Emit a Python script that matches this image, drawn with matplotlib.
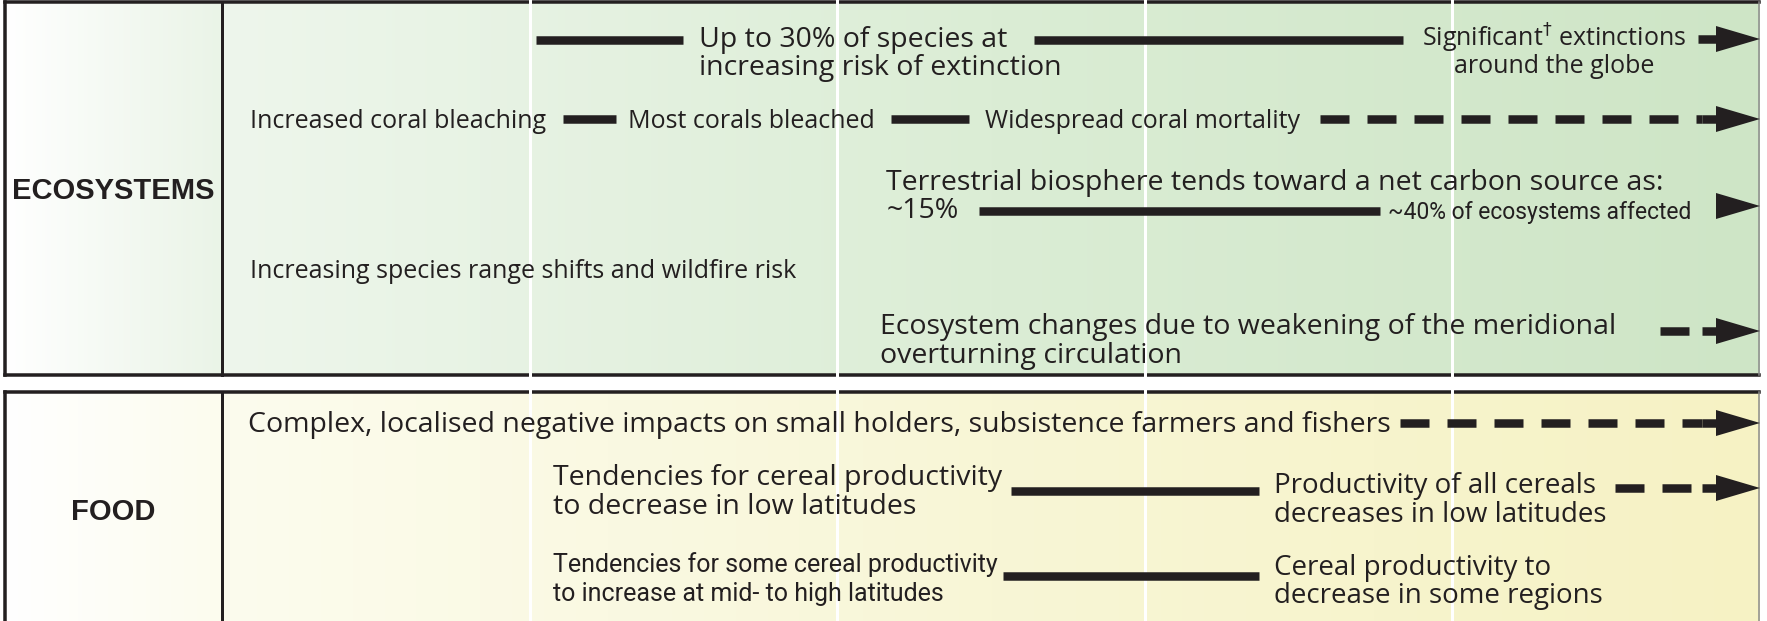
import numpy as np
import matplotlib
matplotlib.use("Agg")
import matplotlib.pyplot as plt
from matplotlib.colors import to_rgb
from matplotlib.patches import Polygon

plt.rcParams["font.family"] = ["Open Sans", "DejaVu Sans"]

W, H, DPI = 1767, 621, 100
X0, XPX = 222, 307.6          # pixel of 0 °C and pixels per °C


def px2t(px):
    return (px - X0) / XPX


# ---- data: warming (°C) at which each statement / bar sits ----
GRID_T = [1, 2, 3, 4]
T_MAX = 5.0

eco_texts = [
    "Up to 30% of species at\nincreasing risk of extinction",
    "Significant$^{\\dagger}$ extinctions\naround the globe",
    "Increased coral bleaching",
    "Most corals bleached",
    "Widespread coral mortality",
    "Terrestrial biosphere tends toward a net carbon source as:\n~15%",
    "~40% of ecosystems affected",
    "Increasing species range shifts and wildfire risk",
    "Ecosystem changes due to weakening of the meridional\noverturning circulation",
]
eco_text_t = [1.55, 4.33, 0.09, 1.32, 2.48, 2.16, 3.79, 0.09, 2.14]
eco_solid_t0 = [1.02, 2.64, 1.11, 2.175, 2.46]
eco_solid_t1 = [1.50, 3.84, 1.28, 2.43, 3.765]
eco_arrow_t0 = [4.80, 3.57, 4.86, 4.675]
eco_arrow_dashed = [False, True, False, True]

food_texts = [
    "Complex, localised negative impacts on small holders, subsistence farmers and fishers",
    "Tendencies for cereal productivity\nto decrease in low latitudes",
    "Productivity of all cereals\ndecreases in low latitudes",
    "Tendencies for some cereal productivity\nto increase at mid- to high latitudes",
    "Cereal productivity to\ndecrease in some regions",
]
food_text_t = [0.085, 1.075, 3.42, 1.075, 3.42]
food_solid_t0 = [2.565, 2.54]
food_solid_t1 = [3.37, 3.37]
food_arrow_t0 = [3.83, 4.53]
food_arrow_dashed = [True, True]

# ---- layout (pixels) and styles ----
eco_text_y = [40, 38, 122, 122, 122, 183, 213, 271, 327]
eco_text_style = ["wide", "normal", "normal", "normal", "normal", "wide", "tight", "normal", "wide"]
eco_text_ha = ["left", "center", "left", "left", "left", "left", "left", "left", "left"]
eco_solid_y = [40, 40, 119, 119, 211]
eco_arrow_y = [39, 119, 206, 331]

food_text_y = [425, 478, 486, 565, 568]
food_text_style = ["wide", "wide", "medium", "narrow", "medium"]
food_text_ha = ["left"] * 5
food_solid_y = [491, 576]
food_arrow_y = [423, 488]

STYLES = {"wide": ("Open Sans", 20.5), "medium": ("Open Sans", 20), "normal": ("Open Sans", 18),
          "narrow": ("Roboto", 18), "tight": ("Roboto", 16.5)}
INK = "#231f20"
LINE_GAP = 28.5
BAR_LW = 8.5 * 72 / DPI
HEAD_L, HEAD_HW = 44 / XPX, 13

PANELS = [
    # y_top, y_bottom, label, label_y, label grad, data grad
    (2, 375, "ECOSYSTEMS", 191, ["#ffffff", "#eaf4e7"], ["#eef6ec", "#dbedd5", "#cee5c6"]),
    (392, 640, "FOOD", 512, ["#ffffff", "#fcfcee"], ["#fcfcee", "#f8f6d6", "#f6f2c4"]),
]


def gradient(ax, x0, x1, y0, y1, colors):
    stops = np.linspace(0, 1, len(colors))
    xs = np.linspace(0, 1, 256)
    rgb = np.array([to_rgb(c) for c in colors])
    img = np.stack([np.interp(xs, stops, rgb[:, k]) for k in range(3)], axis=-1)[None, :, :]
    ax.imshow(img, extent=[x0, x1, y1, y0], aspect="auto", interpolation="bilinear", zorder=0)


def draw_texts(ax, texts, ts, ys, styles, has):
    for txt, t, y, st, ha in zip(texts, ts, ys, styles, has):
        fam, size = STYLES[st]
        for i, line in enumerate(txt.split("\n")):
            ax.text(t, y + i * LINE_GAP, line, ha=ha, va="center", color=INK,
                    family=[fam, "DejaVu Sans"], fontsize=size, zorder=5)


def draw_bars(ax, t0s, t1s, ys):
    for a, b, y in zip(t0s, t1s, ys):
        ax.plot([a, b], [y, y], color=INK, lw=BAR_LW, solid_capstyle="butt", zorder=4)


def draw_arrows(ax, t0s, ys, dashed):
    base = T_MAX - HEAD_L
    for a, y, d in zip(t0s, ys, dashed):
        if a < base:
            if d:
                ax.plot([a, base - 14 / XPX], [y, y], color=INK, lw=BAR_LW,
                        dashes=(29 / 8.5, 18 / 8.5), dash_capstyle="butt", zorder=4)
                ax.plot([base - 14 / XPX, base], [y, y], color=INK, lw=BAR_LW,
                        solid_capstyle="butt", zorder=4)
            else:
                ax.plot([a, base], [y, y], color=INK, lw=BAR_LW, solid_capstyle="butt", zorder=4)
        ax.add_patch(Polygon([(base, y - HEAD_HW), (T_MAX, y), (base, y + HEAD_HW)],
                             closed=True, color=INK, lw=0, zorder=4))


fig = plt.figure(figsize=(W / DPI, H / DPI), dpi=DPI)
ax = fig.add_axes([0, 0, 1, 1])
xl, xr, xd = px2t(5), px2t(1759), px2t(222)

for y0, y1, label, ly, lgrad, dgrad in PANELS:
    gradient(ax, xl, xd, y0, y1, lgrad)
    gradient(ax, xd, xr, y0, y1, dgrad)
    ax.plot([xl, xr], [y0, y0], color=INK, lw=3.5 * 72 / DPI, zorder=2, solid_capstyle="projecting")
    if y1 < H:
        ax.plot([xl, xr], [y1, y1], color=INK, lw=3.5 * 72 / DPI, zorder=2, solid_capstyle="projecting")
    ax.plot([xl, xl], [y0, y1], color=INK, lw=3.5 * 72 / DPI, zorder=2)
    ax.plot([xd, xd], [y0, y1], color=INK, lw=3 * 72 / DPI, zorder=2)
    ax.plot([xr, xr], [y0, y1], color="#8a8a8a", lw=1.5 * 72 / DPI, zorder=2)
    ax.text(px2t(113), ly, label, ha="center", va="center", color=INK,
            family=["Liberation Sans", "DejaVu Sans"], fontweight="bold", fontsize=21, zorder=5)

for t in GRID_T:
    ax.axvline(t, color="white", lw=3 * 72 / DPI, zorder=3)

draw_texts(ax, eco_texts, eco_text_t, eco_text_y, eco_text_style, eco_text_ha)
draw_bars(ax, eco_solid_t0, eco_solid_t1, eco_solid_y)
draw_arrows(ax, eco_arrow_t0, eco_arrow_y, eco_arrow_dashed)

draw_texts(ax, food_texts, food_text_t, food_text_y, food_text_style, food_text_ha)
draw_bars(ax, food_solid_t0, food_solid_t1, food_solid_y)
draw_arrows(ax, food_arrow_t0, food_arrow_y, food_arrow_dashed)

ax.set_xlim(px2t(0), px2t(W))
ax.set_ylim(H, 0)
ax.axis("off")
fig.savefig("out.png", dpi=DPI, facecolor="white")
